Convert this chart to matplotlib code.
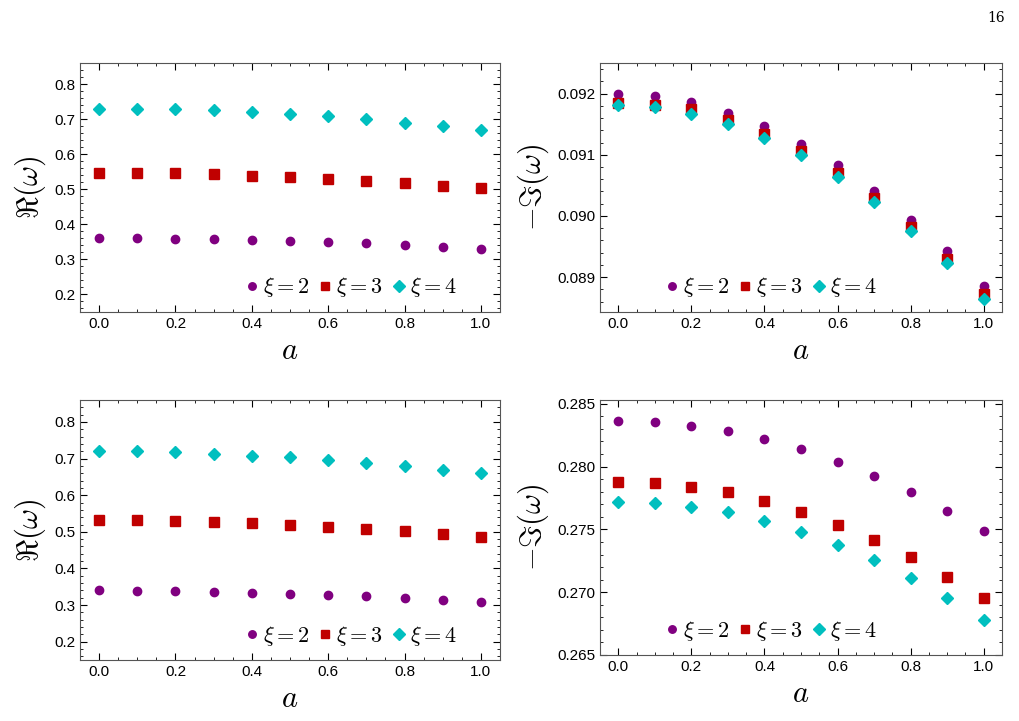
import matplotlib
matplotlib.use("Agg")
import matplotlib.pyplot as plt
from matplotlib.ticker import AutoMinorLocator

plt.rcParams['mathtext.fontset'] = 'cm'
plt.rcParams['font.family'] = ['Liberation Sans', 'DejaVu Sans']

a = [0.0, 0.1, 0.2, 0.3, 0.4, 0.5, 0.6, 0.7, 0.8, 0.9, 1.0]

# top row
re_top_2 = [0.360, 0.360, 0.359, 0.358, 0.356, 0.353, 0.350, 0.346, 0.341, 0.336, 0.331]
re_top_3 = [0.547, 0.546, 0.545, 0.543, 0.539, 0.535, 0.530, 0.524, 0.518, 0.510, 0.503]
re_top_4 = [0.730, 0.730, 0.728, 0.725, 0.720, 0.715, 0.708, 0.700, 0.690, 0.680, 0.670]
im_top_2 = [0.09200, 0.09196, 0.09186, 0.09169, 0.09147, 0.09117, 0.09083, 0.09041, 0.08994, 0.08942, 0.08885]
im_top_3 = [0.09184, 0.09182, 0.09174, 0.09157, 0.09134, 0.09106, 0.09070, 0.09029, 0.08982, 0.08930, 0.08873]
im_top_4 = [0.09181, 0.09178, 0.09167, 0.09151, 0.09128, 0.09099, 0.09064, 0.09022, 0.08975, 0.08923, 0.08865]

# bottom row
re_bot_2 = [0.340, 0.339, 0.338, 0.336, 0.334, 0.331, 0.328, 0.324, 0.319, 0.314, 0.308]
re_bot_3 = [0.532, 0.531, 0.529, 0.526, 0.523, 0.519, 0.514, 0.508, 0.501, 0.494, 0.487]
re_bot_4 = [0.720, 0.720, 0.717, 0.713, 0.708, 0.703, 0.697, 0.688, 0.679, 0.669, 0.660]
im_bot_2 = [0.28363, 0.28352, 0.28325, 0.28282, 0.28220, 0.28137, 0.28040, 0.27927, 0.27795, 0.27649, 0.27491]
im_bot_3 = [0.27877, 0.27869, 0.27840, 0.27794, 0.27726, 0.27640, 0.27535, 0.27416, 0.27279, 0.27123, 0.26956]
im_bot_4 = [0.27718, 0.27708, 0.27681, 0.27635, 0.27565, 0.27479, 0.27374, 0.27253, 0.27112, 0.26953, 0.26780]

W, H = 1019, 721
fig = plt.figure(figsize=(W / 100, H / 100), dpi=100)


def make_ax(x0, y0, x1, y1):
    return fig.add_axes([x0 / W, 1 - y1 / H, (x1 - x0) / W, (y1 - y0) / H])


def panel(ax, s2, s3, s4, ylim, yticks, ylabel, fmt, leg_x):
    ax.plot(a, s2, 'o', color='#800080', ms=6, label=r'$\xi=2$')
    ax.plot(a, s3, 's', color='#c00000', ms=7, label=r'$\xi=3$')
    ax.plot(a, s4, 'D', color='#00bfbf', ms=6.5, label=r'$\xi=4$')
    ax.set_xlim(-0.05, 1.05)
    ax.set_ylim(*ylim)
    ax.set_xticks([0.0, 0.2, 0.4, 0.6, 0.8, 1.0])
    ax.set_xticklabels(['0.0', '0.2', '0.4', '0.6', '0.8', '1.0'])
    ax.set_yticks(yticks)
    ax.set_yticklabels([fmt.format(v) for v in yticks])
    ax.xaxis.set_minor_locator(AutoMinorLocator(4))
    ax.yaxis.set_minor_locator(AutoMinorLocator(5))
    ax.tick_params(which='both', direction='in', top=True, right=True, labelsize=11)
    ax.tick_params(which='major', length=5)
    ax.tick_params(which='minor', length=2.5)
    for s in ax.spines.values():
        s.set_color('#555555')
    ax.set_xlabel(r'$a$', fontsize=22)
    ax.set_ylabel(ylabel, fontsize=22)
    ax.legend(loc='lower center', bbox_to_anchor=(leg_x, -0.03), ncol=3, frameon=False,
              fontsize=16, handletextpad=0.0, columnspacing=0.2, handlelength=1.0,
              markerscale=0.9)


re_lab = r'$\Re(\omega)$'
im_lab = r'$-\Im(\omega)$'
re_ticks = [0.2, 0.3, 0.4, 0.5, 0.6, 0.7, 0.8]

panel(make_ax(80, 63, 500, 312), re_top_2, re_top_3, re_top_4,
      (0.15, 0.86), re_ticks, re_lab, '{:.1f}', 0.64)
panel(make_ax(600, 63, 1002, 312), im_top_2, im_top_3, im_top_4,
      (0.08843, 0.09250), [0.089, 0.090, 0.091, 0.092], im_lab, '{:.3f}', 0.42)
panel(make_ax(80, 400, 500, 660), re_bot_2, re_bot_3, re_bot_4,
      (0.15, 0.86), re_ticks, re_lab, '{:.1f}', 0.64)
panel(make_ax(600, 400, 1002, 655), im_bot_2, im_bot_3, im_bot_4,
      (0.2651, 0.2853), [0.265, 0.270, 0.275, 0.280, 0.285], im_lab, '{:.3f}', 0.42)

fig.text(1005 / W, 1 - 18 / H, '16', ha='right', va='center', fontsize=10, family='DejaVu Serif')

fig.savefig('out.png', dpi=100)
